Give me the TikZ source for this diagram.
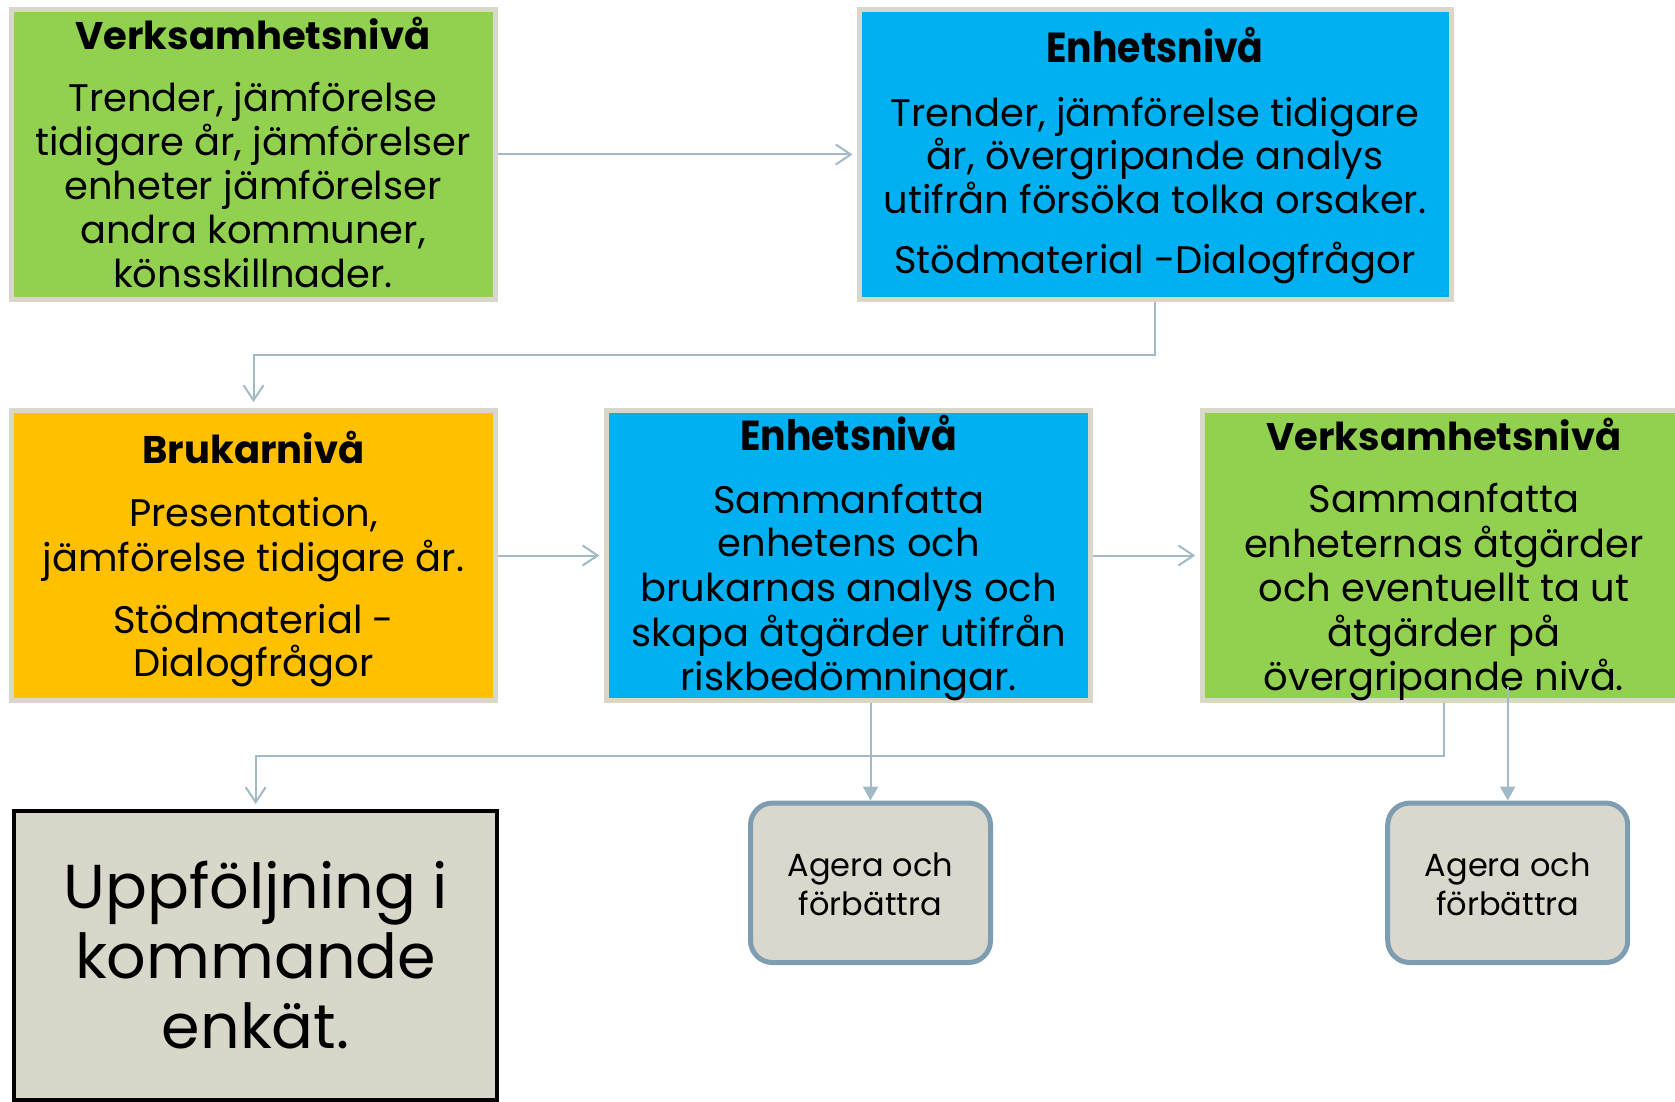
\documentclass[tikz,border=0pt]{standalone}
\usepackage{fontspec}
\usepackage{graphicx}
\setmainfont{Poppins}
\usetikzlibrary{arrows.meta}
\definecolor{lgreen}{HTML}{92D050}
\definecolor{lblue}{HTML}{00B0F0}
\definecolor{lorange}{HTML}{FFC000}
\definecolor{lframe}{HTML}{D9D7CA}
\definecolor{lline}{HTML}{A2B9C6}
\definecolor{agfill}{HTML}{DAD8CC}
\definecolor{agdraw}{HTML}{7F9DB0}
\tikzset{
  lvlbox/.style={draw=lframe, line width=5pt, rectangle, inner sep=0pt, minimum width=483.5pt, minimum height=290pt},
  agbox/.style={draw=agdraw, fill=agfill, line width=5pt, rectangle, rounded corners=22pt, inner sep=0pt, minimum width=240pt, minimum height=159.5pt},
  upbox/.style={draw=black, fill=lframe, line width=4pt, rectangle, inner sep=0pt, minimum width=483.5pt, minimum height=289pt},
  ttl/.style={anchor=base, inner sep=0pt, font=\fontsize{38.5}{44}\selectfont\bfseries},
  ettl/.style={anchor=base, inner sep=0pt, font=\fontsize{42}{48}\selectfont\bfseries},
  bod/.style={anchor=base, inner sep=0pt, font=\fontsize{38.4}{44}\selectfont},
  agt/.style={anchor=base, inner sep=0pt, font=\fontsize{32}{36}\selectfont},
  upt/.style={anchor=base, inner sep=0pt, font=\fontsize{62}{68}\selectfont},
  openarr/.style={draw=lline, line width=2pt, -{Straight Barb[length=15pt,width=20pt,line width=2pt]}},
  fillarr/.style={draw=lline, line width=2pt, -{Triangle[length=14pt,width=15pt]}}
}
\newcommand{\cond}[1]{\scalebox{0.9}[1]{#1}}
\begin{document}
\begin{tikzpicture}[x=1pt,y=-1pt]
\useasboundingbox (0,0) rectangle (1675,1102);
% boxes
\node[lvlbox, fill=lgreen] (b1) at (253.3,154.5) {};
\node[lvlbox, fill=lblue, minimum width=592pt] (b2) at (1155,154.5) {};
\node[lvlbox, fill=lorange] (b3) at (253.5,555.5) {};
\node[lvlbox, fill=lblue] (b4) at (848.7,555.5) {};
\node[lvlbox, fill=lgreen] (b5) at (1444,555.5) {};
\node[upbox] (b6) at (255.7,955.5) {};
\node[agbox] (a1) at (870.5,882.8) {};
\node[agbox] (a2) at (1507.7,882.8) {};
% box 1 text
\node[ttl] (t1a) at (253,50) {Verksamhetsnivå};
\node[bod] (t1b) at (253,111.5) {Trender, jämförelse};
\node[bod] (t1c) at (253,155.5) {tidigare år, jämförelser};
\node[bod] (t1d) at (253,199.5) {enheter jämförelser};
\node[bod] (t1e) at (253,243.5) {andra kommuner,};
\node[bod] (t1f) at (253,287.5) {könsskillnader.};
% box 2 text
\node[ettl] (t2a) at (1155,63) {\cond{Enhetsnivå}};
\node[bod] (t2b) at (1155,126.7) {Trender, jämförelse tidigare};
\node[bod] (t2c) at (1155,170) {år, övergripande analys};
\node[bod] (t2d) at (1155,213) {utifrån försöka tolka orsaker.};
\node[bod] (t2e) at (1155,273) {Stödmaterial -Dialogfrågor};
% box 3 text
\node[ttl] (t3a) at (253.5,463) {Brukarnivå};
\node[bod] (t3b) at (253.5,526.7) {Presentation,};
\node[bod] (t3c) at (253.5,571.7) {jämförelse tidigare år.};
\node[bod] (t3d) at (253.5,633) {Stödmaterial -};
\node[bod] (t3e) at (253.5,676.7) {Dialogfrågor};
% box 4 text
\node[ettl] (t4a) at (848.7,450) {\cond{Enhetsnivå}};
\node[bod] (t4b) at (848.7,513) {Sammanfatta};
\node[bod] (t4c) at (848.7,556.7) {enhetens och};
\node[bod] (t4d) at (848.7,601.7) {brukarnas analys och};
\node[bod] (t4e) at (848.7,646.7) {skapa åtgärder utifrån};
\node[bod] (t4f) at (848.7,690) {riskbedömningar.};
% box 5 text
\node[ttl] (t5a) at (1444,450) {Verksamhetsnivå};
\node[bod] (t5b) at (1444,512.8) {Sammanfatta};
\node[bod] (t5c) at (1444,557) {enheternas åtgärder};
\node[bod] (t5d) at (1444,601.6) {och eventuellt ta ut};
\node[bod] (t5e) at (1444,646) {åtgärder på};
\node[bod] (t5f) at (1444,690) {övergripande nivå.};
% box 6 text
\node[upt] (t6a) at (255.7,908) {Uppföljning i};
\node[upt] (t6b) at (255.7,978) {kommande};
\node[upt] (t6c) at (255.7,1048) {enkät.};
% agera texts
\node[agt] (g1a) at (870.5,876.7) {Agera och};
\node[agt] (g1b) at (870.5,915) {förbättra};
\node[agt] (g2a) at (1507.7,876.7) {Agera och};
\node[agt] (g2b) at (1507.7,915) {förbättra};
% connectors
\coordinate (j1) at (1155,355);
\coordinate (j2) at (1444,756);
\coordinate (s2) at (1507.7,687);
\draw[openarr, shorten >=4pt] (b1.east) -- (b2.west);
\draw[openarr, shorten >=6pt] (b2.south) -- (j1) -| (b3.north);
\draw[openarr, shorten >=5pt] (b3.east) -- (b4.west);
\draw[openarr, shorten >=4.5pt] (b4.east) -- (b5.west);
\draw[openarr, shorten >=5pt] (b5.south) -- (j2) -| (b6.north);
\draw[fillarr] (a1.north |- b4.south) -- (a1.north);
\draw[fillarr] (s2) -- (a2.north);
\end{tikzpicture}
\end{document}
